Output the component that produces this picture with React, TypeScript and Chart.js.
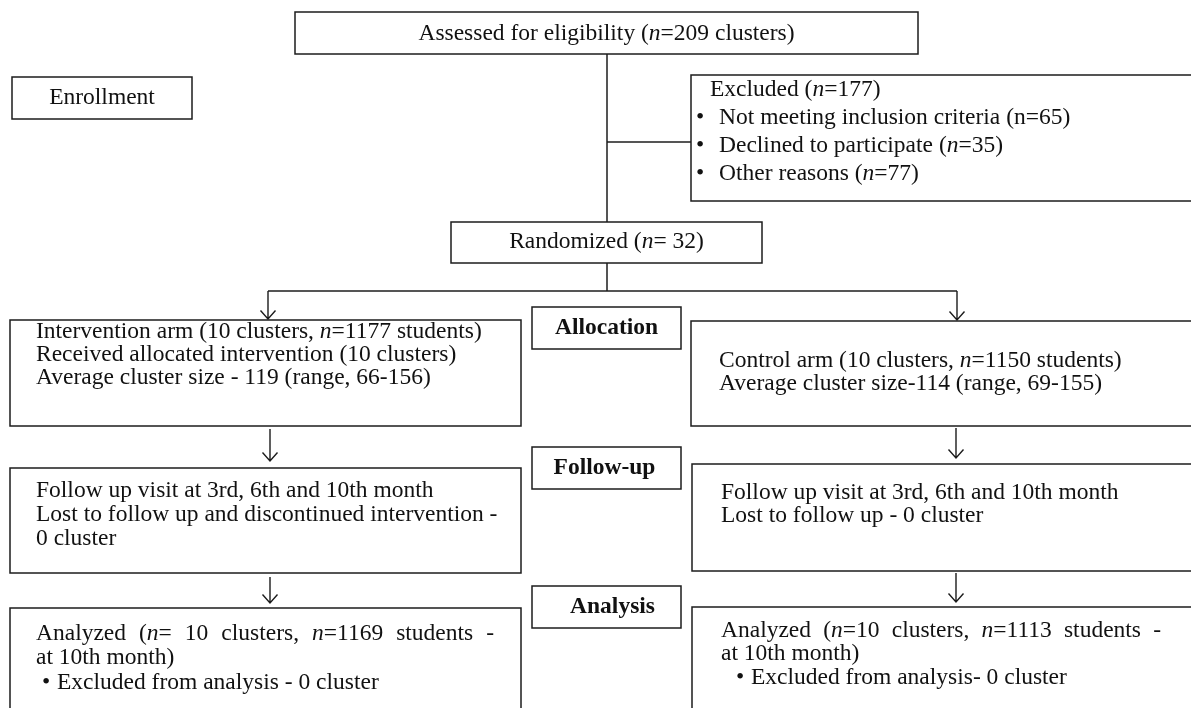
import React, { useEffect, useRef } from "react";
import { Chart, registerables } from "chart.js";

Chart.register(...registerables);

const CANVAS_W = 1191;
const CANVAS_H = 708;

// ---- data ----
const assessedCount = 209;
const excludedTotal = 177;
const excludedReasons = ["Not meeting inclusion criteria", "Declined to participate", "Other reasons"];
const excludedCounts = [65, 35, 77];
const excludedItalic = [false, true, true];
const randomizedCount = 32;
const armNames = ["Intervention arm", "Control arm"];
const armClusters = [10, 10];
const armStudents = [1177, 1150];
const armAvgSize = [119, 114];
const armRangeMin = [66, 69];
const armRangeMax = [156, 155];
const followUpMonths = ["3rd", "6th", "10th"];
const lostClusters = [0, 0];
const analyzedClusters = [10, 10];
const analyzedStudents = [1169, 1113];
const analysisExcluded = [0, 0];
const stageLabels = ["Allocation", "Follow-up", "Analysis"];

// ---- layout (data units of the hidden linear scales) ----
type Box = [number, number, number, number];
const BOX_ASSESSED: Box = [295, 12, 918, 54];
const BOX_ENROLL: Box = [12, 77, 192, 119];
const BOX_EXCLUDED: Box = [691, 75, 1205, 201];
const BOX_RANDOM: Box = [451, 222, 762, 263];
const BOX_INT: Box = [10, 320, 521, 426];
const BOX_CTRL: Box = [691, 321, 1205, 426];
const BOX_STAGES: Box[] = [
  [532, 307, 681, 349],
  [532, 447, 681, 489],
  [532, 586, 681, 628],
];
const BOX_FU_INT: Box = [10, 468, 521, 573];
const BOX_FU_CTRL: Box = [692, 464, 1205, 571];
const BOX_AN_INT: Box = [10, 608, 521, 725];
const BOX_AN_CTRL: Box = [692, 607, 1205, 725];

const FONT_SIZE = 23.5;
const FONT_FAMILY = "'Liberation Serif', 'Times New Roman', serif";

type TextItem = {
  text: string;
  x: number;
  y: number;
  align?: "left" | "center";
  bold?: boolean;
  justifyTo?: number;
  bullet?: number;
};

function buildTexts(): TextItem[] {
  const t: TextItem[] = [];
  const cx = (b: Box) => (b[0] + b[2]) / 2;
  t.push({ text: `Assessed for eligibility (*n*=${assessedCount} clusters)`, x: cx(BOX_ASSESSED), y: 34, align: "center" });
  t.push({ text: "Enrollment", x: cx(BOX_ENROLL), y: 98, align: "center" });
  t.push({ text: `Excluded (*n*=${excludedTotal})`, x: 710, y: 90 });
  const exY = [118, 146, 174];
  excludedReasons.forEach((r, i) => {
    const n = excludedItalic[i] ? "*n*" : "n";
    t.push({ text: `${r} (${n}=${excludedCounts[i]})`, x: 719, y: exY[i], bullet: 696 });
  });
  t.push({ text: `Randomized (*n*= ${randomizedCount})`, x: cx(BOX_RANDOM), y: 242, align: "center" });

  // allocation
  t.push({ text: `${armNames[0]} (${armClusters[0]} clusters, *n*=${armStudents[0]} students)`, x: 36, y: 332 });
  t.push({ text: `Received allocated intervention (${armClusters[0]} clusters)`, x: 36, y: 355 });
  t.push({ text: `Average cluster size - ${armAvgSize[0]} (range, ${armRangeMin[0]}-${armRangeMax[0]})`, x: 36, y: 378 });
  t.push({ text: `${armNames[1]} (${armClusters[1]} clusters, *n*=${armStudents[1]} students)`, x: 719, y: 361 });
  t.push({ text: `Average cluster size-${armAvgSize[1]} (range, ${armRangeMin[1]}-${armRangeMax[1]})`, x: 719, y: 384 });

  // stage labels
  const stageOffset = [0, -2, 6];
  stageLabels.forEach((s, i) => {
    const b = BOX_STAGES[i];
    t.push({ text: s, x: cx(b) + stageOffset[i], y: (b[1] + b[3]) / 2, align: "center", bold: true });
  });

  // follow up
  const visits = `Follow up visit at ${followUpMonths[0]}, ${followUpMonths[1]} and ${followUpMonths[2]} month`;
  t.push({ text: visits, x: 36, y: 491 });
  t.push({ text: "Lost to follow up and discontinued intervention -", x: 36, y: 515 });
  t.push({ text: `${lostClusters[0]} cluster`, x: 36, y: 539 });
  t.push({ text: visits, x: 721, y: 493 });
  t.push({ text: `Lost to follow up - ${lostClusters[1]} cluster`, x: 721, y: 516 });

  // analysis
  t.push({ text: `Analyzed (*n*= ${analyzedClusters[0]} clusters, *n*=${analyzedStudents[0]} students -`, x: 36, y: 634, justifyTo: 494 });
  t.push({ text: "at 10th month)", x: 36, y: 658 });
  t.push({ text: `Excluded from analysis - ${analysisExcluded[0]} cluster`, x: 57, y: 683, bullet: 42 });
  t.push({ text: `Analyzed (*n*=${analyzedClusters[1]} clusters, *n*=${analyzedStudents[1]} students -`, x: 721, y: 631, justifyTo: 1161 });
  t.push({ text: "at 10th month)", x: 721, y: 654 });
  t.push({ text: `Excluded from analysis- ${analysisExcluded[1]} cluster`, x: 751, y: 678, bullet: 736 });
  return t;
}

const LINES: number[][][] = [
  [[607, 54], [607, 222]],
  [[607, 142], [691, 142]],
  [[607, 263], [607, 291]],
  [[268, 291], [957, 291]],
];
// arrows: x, yStart, yTip
const ARROWS: number[][] = [
  [268, 291, 319],
  [957, 291, 320],
  [270, 429, 461],
  [956, 428, 458],
  [270, 577, 603],
  [956, 573, 602],
];

function fontFor(bold: boolean, italic: boolean) {
  return `${italic ? "italic " : ""}${bold ? "bold " : ""}${FONT_SIZE}px ${FONT_FAMILY}`;
}

function segments(s: string) {
  const parts = s.split("*");
  return parts.map((p, i) => ({ s: p, italic: i % 2 === 1 })).filter((p) => p.s.length > 0);
}

function measureRich(ctx: CanvasRenderingContext2D, s: string, bold: boolean) {
  let w = 0;
  for (const seg of segments(s)) {
    ctx.font = fontFor(bold, seg.italic);
    w += ctx.measureText(seg.s).width;
  }
  return w;
}

function drawRich(ctx: CanvasRenderingContext2D, s: string, x: number, y: number, bold: boolean) {
  let cx = x;
  for (const seg of segments(s)) {
    ctx.font = fontFor(bold, seg.italic);
    ctx.fillText(seg.s, cx, y);
    cx += ctx.measureText(seg.s).width;
  }
}

const flowPlugin = {
  id: "flow",
  afterDraw(chart: any) {
    const ctx: CanvasRenderingContext2D = chart.ctx;
    const xs = chart.scales.x;
    const ys = chart.scales.y;
    const px = (v: number) => xs.getPixelForValue(v);
    const py = (v: number) => ys.getPixelForValue(v);
    ctx.save();
    ctx.strokeStyle = "#1c1c1c";
    ctx.lineWidth = 1.5;
    const boxes: Box[] = [
      BOX_ASSESSED, BOX_ENROLL, BOX_EXCLUDED, BOX_RANDOM, BOX_INT, BOX_CTRL,
      ...BOX_STAGES, BOX_FU_INT, BOX_FU_CTRL, BOX_AN_INT, BOX_AN_CTRL,
    ];
    for (const b of boxes) {
      const x0 = px(b[0]), y0 = py(b[1]), x1 = px(b[2]), y1 = py(b[3]);
      ctx.strokeRect(x0, y0, x1 - x0, y1 - y0);
    }
    for (const l of LINES) {
      ctx.beginPath();
      l.forEach((p, i) => (i === 0 ? ctx.moveTo(px(p[0]), py(p[1])) : ctx.lineTo(px(p[0]), py(p[1]))));
      ctx.stroke();
    }
    ctx.lineWidth = 1.4;
    for (const a of ARROWS) {
      const x = px(a[0]), y0 = py(a[1]), yt = py(a[2]);
      ctx.beginPath();
      ctx.moveTo(x, y0);
      ctx.lineTo(x, yt);
      ctx.moveTo(x - 7.5, yt - 8.5);
      ctx.lineTo(x, yt);
      ctx.lineTo(x + 7.5, yt - 8.5);
      ctx.stroke();
    }

    ctx.fillStyle = "#111";
    ctx.textBaseline = "middle";
    ctx.textAlign = "left";
    for (const t of buildTexts()) {
      const bold = !!t.bold;
      const y = py(t.y);
      if (t.bullet !== undefined) {
        ctx.font = fontFor(false, false);
        ctx.fillText("\u2022", px(t.bullet), y);
      }
      if (t.justifyTo !== undefined) {
        const words = t.text.split(" ");
        const widths = words.map((w) => measureRich(ctx, w, bold));
        const total = widths.reduce((a, b) => a + b, 0);
        const gap = (px(t.justifyTo) - px(t.x) - total) / (words.length - 1);
        let cx = px(t.x);
        words.forEach((w, i) => {
          drawRich(ctx, w, cx, y, bold);
          cx += widths[i] + gap;
        });
      } else {
        let x = px(t.x);
        if (t.align === "center") x -= measureRich(ctx, t.text, bold) / 2;
        drawRich(ctx, t.text, x, y, bold);
      }
    }
    ctx.restore();
  },
};

export default function App() {
  const ref = useRef<HTMLCanvasElement | null>(null);
  useEffect(() => {
    document.body.style.margin = "0";
    const canvas = ref.current;
    if (!canvas) return;
    const chart = new Chart(canvas, {
      type: "scatter",
      data: { datasets: [{ data: [], pointRadius: 0 }] },
      options: {
        animation: false,
        responsive: false,
        devicePixelRatio: 1,
        layout: { padding: 0 },
        plugins: { legend: { display: false }, tooltip: { enabled: false } },
        scales: {
          x: { type: "linear", min: 0, max: CANVAS_W, display: false },
          y: { type: "linear", min: 0, max: CANVAS_H, reverse: true, display: false },
        },
      },
      plugins: [flowPlugin],
    });
    return () => chart.destroy();
  }, []);
  return (
    <div style={{ width: CANVAS_W, height: CANVAS_H, background: "#fff" }}>
      <canvas ref={ref} width={CANVAS_W} height={CANVAS_H} style={{ display: "block" }} />
    </div>
  );
}
